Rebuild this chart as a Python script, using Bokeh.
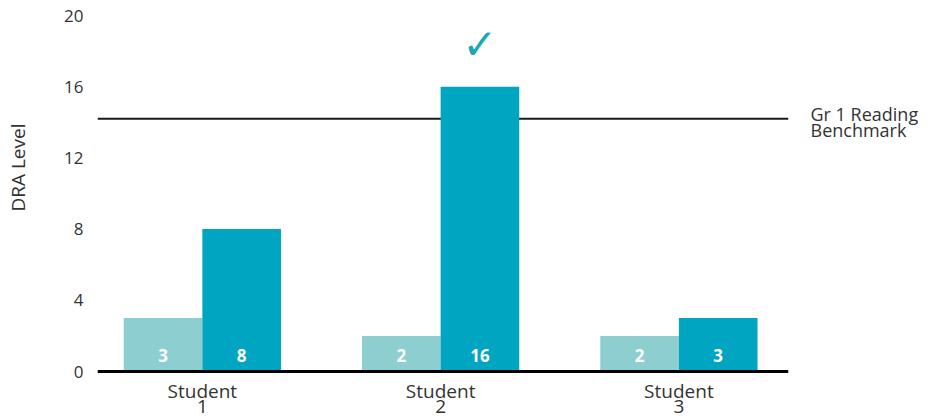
from bokeh.plotting import figure
from bokeh.models import FixedTicker, Span, LinearAxis, Title
from bokeh.core.properties import value
from bokeh.embed import file_html
from bokeh.resources import INLINE

# ---- data ----
students = ["Student\n1", "Student\n2", "Student\n3"]
before = [3, 2, 2]
after = [8, 16, 3]
benchmark = 14.2
benchmark_label = "Gr 1 Reading\nBenchmark"
y_ticks = [0, 4, 8, 12, 16, 20]
y_axis_title = "DRA Level"

FONT = "Open Sans"
LIGHT = "#8dcfd1"
DARK = "#00a5c2"
CHECK = "#1aa9b3"
TXT = "#333333"

# ---- layout ----
W, H = 930, 418
TOP = 15          # frame top (canvas px), where 20 sits
ZERO_Y = 371      # canvas px where value 0 sits
LEFT, RIGHT = 97, 788
px_per_unit = (ZERO_Y - TOP) / 20.0
y_min = -(H - ZERO_Y) / px_per_unit

xs = list(range(len(students)))
x_start, x_end = -0.44, 2.46
bw = 0.33

p = figure(width=W, height=H, x_range=(x_start, x_end), y_range=(y_min, 20),
           output_backend="svg", toolbar_location=None,
           min_border_left=LEFT, min_border_right=W - RIGHT, min_border_top=TOP,
           min_border_bottom=0)
p.outline_line_color = None
p.grid.grid_line_color = None
p.xaxis.visible = False

p.add_layout(Span(location=benchmark, dimension="width", line_color="#1a1a1a",
                  line_width=2, level="underlay"))

xl = [x - bw / 2 for x in xs]
xr = [x + bw / 2 for x in xs]
p.vbar(x=xl, top=before, width=bw, bottom=0, fill_color=LIGHT, line_color=None)
p.vbar(x=xr, top=after, width=bw, bottom=0, fill_color=DARK, line_color=None)

# baseline
p.add_layout(Span(location=0, dimension="width", line_color="black", line_width=3))

p.text(x=xl, y=[0] * len(xs), text=[str(v) for v in before], text_align="center",
       text_baseline="middle", y_offset=-16, text_color="white", text_font=value(FONT),
       text_font_size="17px", text_font_style="bold")
p.text(x=xr, y=[0] * len(xs), text=[str(v) for v in after], text_align="center",
       text_baseline="middle", y_offset=-16, text_color="white", text_font=value(FONT),
       text_font_size="17px", text_font_style="bold")

# category labels under the baseline (two tight lines)
first = [s.split("\n")[0] for s in students]
second = [s.split("\n")[1] for s in students]
p.text(x=xs, y=[0] * len(xs), text=first, text_align="center", text_baseline="middle",
       y_offset=19, text_color=TXT, text_font=value(FONT), text_font_size="19px")
p.text(x=xs, y=[0] * len(xs), text=second, text_align="center", text_baseline="middle",
       y_offset=35, text_color=TXT, text_font=value(FONT), text_font_size="19px")

# check marks above students meeting benchmark
cx = [xr[i] for i in range(len(xs)) if after[i] >= benchmark]
cy = [after[i] for i in range(len(xs)) if after[i] >= benchmark]
p.text(x=cx, y=cy, text=["\u2713"] * len(cx), text_align="center", text_baseline="middle",
       y_offset=-42, text_color=CHECK, text_font=value("DejaVu Sans"),
       text_font_size="42px", text_font_style="bold")

# benchmark label via right axis (two tight lines around the benchmark line)
bl1, bl2 = benchmark_label.split("\n")
t1 = benchmark + 5 / px_per_unit
t2 = benchmark - 11 / px_per_unit
rax = LinearAxis(ticker=FixedTicker(ticks=[t1, t2]),
                 major_label_overrides={t1: bl1, t2: bl2})
rax.axis_line_color = None
rax.major_tick_line_color = None
rax.minor_tick_line_color = None
rax.major_tick_out = 0
rax.major_label_standoff = 22
rax.major_label_text_font = FONT
rax.major_label_text_font_size = "18px"
rax.major_label_text_color = TXT
p.add_layout(rax, "right")

ya = p.yaxis[0]
ya.ticker = FixedTicker(ticks=y_ticks)
ya.axis_line_color = None
ya.major_tick_line_color = None
ya.minor_tick_line_color = None
ya.major_tick_out = 0
ya.major_label_standoff = 14
ya.major_label_text_font = FONT
ya.major_label_text_font_size = "17px"
ya.major_label_text_color = TXT

# spacer between tick labels and the y-axis title
p.add_layout(Title(text=" ", standoff=0, text_font=FONT, text_font_size="21px"), "left")
# y-axis title, placed higher than frame centre as in the reference
ytitle = Title(text=y_axis_title, align="right", offset=108, standoff=0,
               text_font=FONT, text_font_size="19px", text_font_style="normal",
               text_color=TXT, vertical_align="middle")
p.add_layout(ytitle, "left")

open("out.html", "w").write(file_html(p, INLINE))
